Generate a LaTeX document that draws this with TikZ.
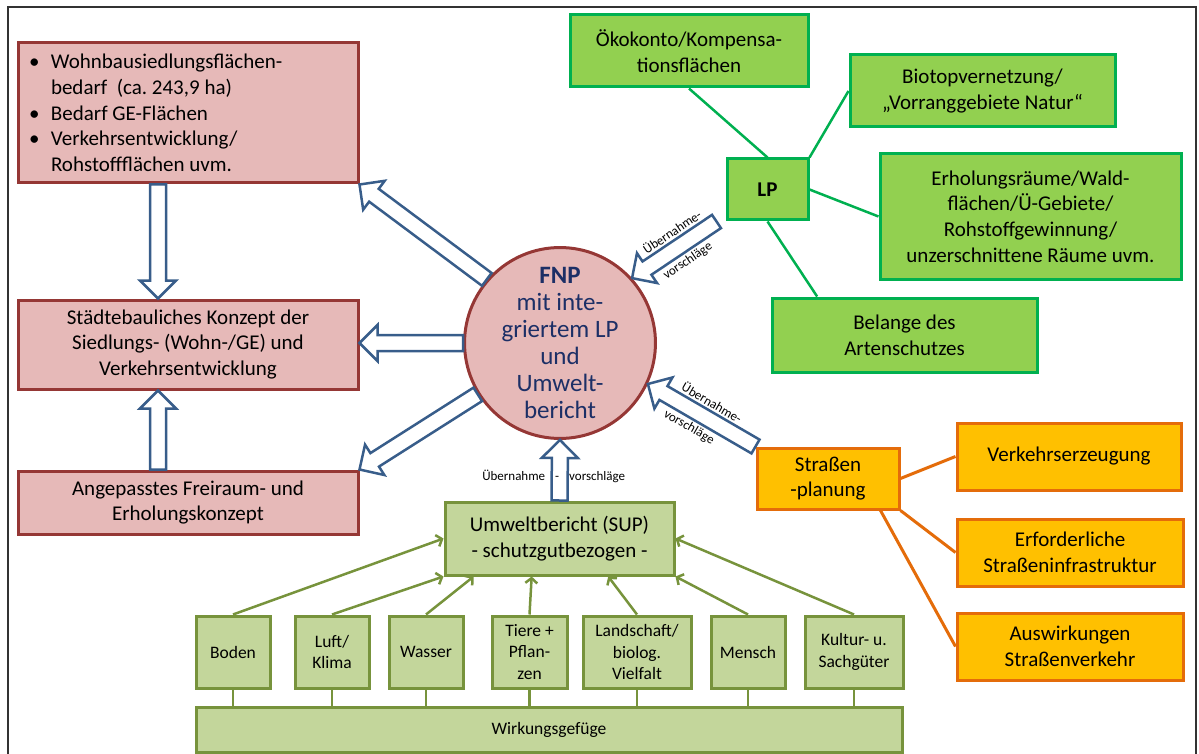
\documentclass[tikz,border=0pt]{standalone}
\usepackage{fontspec}
\setmainfont{Carlito}
\usetikzlibrary{arrows.meta,calc}

\definecolor{rotfill}{HTML}{E6B9B8}
\definecolor{rotrand}{HTML}{953735}
\definecolor{gruenfill}{HTML}{92D050}
\definecolor{gruenrand}{HTML}{00B050}
\definecolor{orangefill}{HTML}{FFC000}
\definecolor{orangerand}{HTML}{E46C0A}
\definecolor{olivfill}{HTML}{C3D69B}
\definecolor{olivrand}{HTML}{77933C}
\definecolor{pfeilblau}{HTML}{385D8A}
\definecolor{fnpblau}{HTML}{1C2F66}

\newcommand{\schriftgross}{\fontsize{21}{25.7}\selectfont}
\newcommand{\schriftklein}{\fontsize{17.5}{21.3}\selectfont}
\newcommand{\schriftmini}{\fontsize{13}{15}\selectfont}
\newcommand{\bul}{\makebox[22pt][l]{\textbullet}}
\newcommand{\einzug}{\hspace*{22pt}}

% Blockpfeil von #1 nach #2 (Schaft 16pt, Spitze 36pt breit)
\newcommand{\blockpfeil}[2]{%
  \coordinate (bpH) at ($(#2)!18pt!(#1)$);
  \draw[blockpfeil] ($(#1)!8pt!90:(#2)$) -- ($(bpH)!8pt!-90:(#1)$)
    -- ($(bpH)!18pt!-90:(#1)$) -- (#2) -- ($(bpH)!18pt!90:(#1)$)
    -- ($(bpH)!8pt!90:(#1)$) -- ($(#1)!8pt!-90:(#2)$) -- cycle;
}

\begin{document}
\begin{tikzpicture}[x=1pt, y=-1pt,
  box/.style={rectangle, line width=3pt, align=center, inner sep=0pt, font=\schriftgross},
  rotbox/.style={box, draw=rotrand, fill=rotfill},
  gruenbox/.style={box, draw=gruenrand, fill=gruenfill},
  orangebox/.style={box, draw=orangerand, fill=orangefill},
  olivbox/.style={box, draw=olivrand, fill=olivfill},
  schutzgut/.style={olivbox, font=\schriftklein, minimum height=72pt},
  blockpfeil/.style={draw=pfeilblau, fill=white, line width=2.5pt, line join=miter},
  gruenlinie/.style={draw=gruenrand, line width=2.5pt},
  orangelinie/.style={draw=orangerand, line width=3pt},
  olivlinie/.style={draw=olivrand, line width=2.5pt},
  schutzpfeil/.style={olivlinie, -{Straight Barb[length=5pt, width=12pt]}},
  hinweis/.style={font=\schriftmini, inner sep=1pt}]
\useasboundingbox (0,0) rectangle (1199,754);
% Rahmen (unten offen)
\draw[line width=1.5pt, black!80] (8,800) -- (8,7) -- (1196,7) -- (1196,800);

% Siedlungsbedarf und Konzepte (links)
\node[rotbox, minimum width=340pt, minimum height=140pt] (wohn) at (188,113)
  {\parbox{318pt}{\raggedright\schriftgross
  \bul Wohnbausiedlungsflächen-\\ \einzug bedarf\ \ (ca.\ 243,9 ha)\\
  \bul Bedarf GE-Flächen\\ \bul Verkehrsentwicklung/\\ \einzug Rohstoffflächen uvm.}};
\node[rotbox, minimum width=340pt, minimum height=89pt] (staedte) at (188,344.5)
  {Städtebauliches Konzept der\\Siedlungs- (Wohn-/GE) und\\Verkehrsentwicklung};
\node[rotbox, minimum width=340pt, minimum height=63pt] (frei) at (188,502.5)
  {Angepasstes Freiraum- und\\Erholungskonzept};

% FNP in der Mitte
\node[circle, draw=rotrand, fill=rotfill, line width=3pt, minimum size=184pt, inner sep=0pt,
  align=center, text=fnpblau, font=\fontsize{25}{27}\selectfont] (fnp) at (560,343)
  {\textbf{FNP}\\mit inte-\\griertem LP\\und\\Umwelt-\\bericht};

% Landschaftsplan (oben rechts)
\node[gruenbox, minimum width=238pt, minimum height=72pt] (oeko) at (689,51)
  {Ökokonto/Kompensa-\\tionsflächen};
\node[gruenbox, minimum width=265pt, minimum height=72pt] (biotop) at (982.5,91)
  {Biotopvernetzung/\\„Vorranggebiete Natur“};
\node[gruenbox, minimum width=81pt, minimum height=61pt, font=\schriftgross\bfseries]
  (lp) at (767.5,189.5) {LP};
\node[gruenbox, minimum width=301pt, minimum height=125pt] (erhol) at (1030.5,216.5)
  {Erholungsräume/Wald-\\flächen/Ü-Gebiete/\\Rohstoffgewinnung/\\unzerschnittene Räume uvm.};
\node[gruenbox, minimum width=265pt, minimum height=74pt] (belange) at (904.5,335)
  {Belange des\\Artenschutzes};
\draw[gruenlinie] (lp.north) -- (oeko.south);
\draw[gruenlinie] (lp.north east) -- (biotop.west);
\draw[gruenlinie] (lp.east) -- (erhol.west);
\draw[gruenlinie] (lp.south) -- ($(belange.north west)!0.174!(belange.north east)$);

% Strassenplanung (rechts)
\node[orangebox, minimum width=142pt, minimum height=61pt] (strasse) at (828,478.5)
  {Straßen\\-planung};
\node[orangebox, minimum width=224pt, minimum height=67pt] (verkehr) at (1069,456.5)
  {Verkehrserzeugung};
\node[orangebox, minimum width=226pt, minimum height=67pt] (erford) at (1070,552.5)
  {Erforderliche\\Straßeninfrastruktur};
\node[orangebox, minimum width=226pt, minimum height=67pt] (ausw) at (1070,646.5)
  {Auswirkungen\\Straßenverkehr};
\draw[orangelinie] (strasse.east) -- (verkehr.west);
\draw[orangelinie] (strasse.south east) -- (erford.west);
\draw[orangelinie] ([xshift=-20pt]strasse.south east) -- (ausw.west);

% Umweltbericht mit Schutzguetern (unten)
\node[olivbox, minimum width=229pt, minimum height=73pt] (umwelt) at (559.5,538.5)
  {Umweltbericht (SUP)\\- schutzgutbezogen -};
\foreach \name/\x/\w/\txt in {boden/233/74/Boden, luft/332/74/{Luft/\\Klima},
    wasser/426/74/Wasser, tiere/529.5/75/{Tiere +\\Pflan-\\zen},
    landsch/637/108/{Landschaft/\\biolog.\\Vielfalt}, mensch/748/74/Mensch,
    kultur/854/98/{Kultur- u.\\Sachgüter}}
  \node[schutzgut, minimum width=\w pt] (\name) at (\x,652) {\txt};
\node[olivbox, minimum width=706pt, minimum height=45pt, font=\schriftklein] (wirk)
  at (549,729.5) {Wirkungsgefüge};
\coordinate (u3) at ($(umwelt.south west)!0.13!(umwelt.south east)$);
\coordinate (u4) at ($(umwelt.south west)!0.38!(umwelt.south east)$);
\coordinate (u5) at ($(umwelt.south west)!0.71!(umwelt.south east)$);
\foreach \q/\z in {boden/umwelt.west, luft/umwelt.south west, wasser/u3, tiere/u4,
    landsch/u5, mensch/umwelt.south east, kultur/umwelt.east}
  \draw[schutzpfeil] (\q.north) -- (\z);
\foreach \q in {boden,luft,wasser,tiere,landsch,mensch,kultur}
  \draw[olivlinie] (\q.south) -- (\q.south |- wirk.north);

% Blockpfeile
\coordinate (w1) at ([xshift=-30pt]wohn.south);
\coordinate (s1) at ([xshift=-30pt]staedte.north);
\coordinate (s2) at ([xshift=-30pt]staedte.south);
\coordinate (f1) at ([xshift=-30pt]frei.north);
\coordinate (s3) at (staedte.east |- fnp.west);
\coordinate (lpfuss) at ([xshift=-9pt]lp.south west);
\blockpfeil{w1}{s1}
\blockpfeil{f1}{s2}
\blockpfeil{fnp.139}{wohn.south east}
\blockpfeil{fnp.west}{s3}
\blockpfeil{fnp.212}{frei.north east}
\blockpfeil{umwelt.north}{fnp.south}
\blockpfeil{lpfuss}{fnp.42}
\blockpfeil{strasse.north west}{fnp.-25}

% Beschriftung der Pfeile
\path (fnp.42) -- (lpfuss)
  node[hinweis, pos=0.58, sloped, above=10pt] (lpueb) {Übernahme-}
  node[hinweis, pos=0.55, sloped, below=10pt] (lpvor) {vorschläge};
\path (fnp.-25) -- (strasse.north west)
  node[hinweis, pos=0.52, sloped, above=10pt] (strueb) {Übernahme-}
  node[hinweis, pos=0.46, sloped, below=10pt] (strvor) {vorschläge};
\node[hinweis, xshift=-6pt] (umwueb) at ($(umwelt.north)!0.4!(fnp.south)$)
  {Übernahme\hspace{10pt}-\hspace{10pt}vorschläge};
\end{tikzpicture}
\end{document}
